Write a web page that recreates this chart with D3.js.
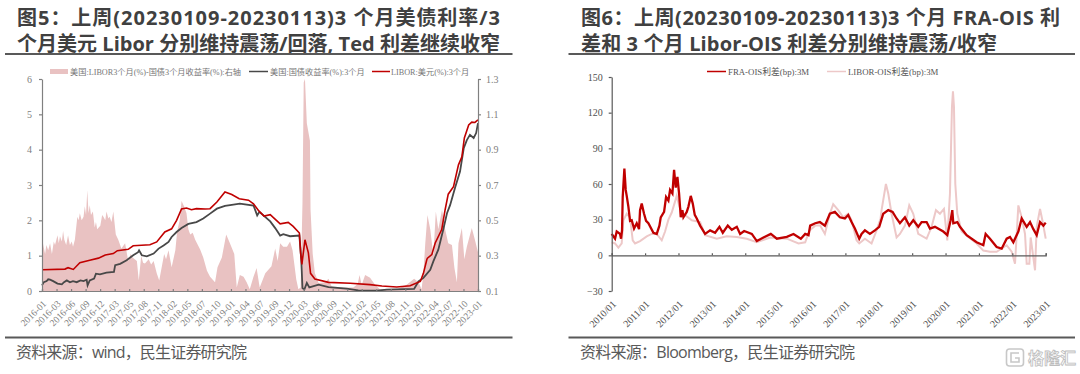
<!DOCTYPE html>
<html>
<head>
<meta charset="utf-8">
<script src="https://d3js.org/d3.v7.min.js"></script>
<style>
body { margin: 0; background: #fff; }
svg { display: block; }
</style>
</head>
<body>
<div id="chart"></div>
<script>
// left chart, [year, value]
const tedSpread = [[2016,.415],[2016.02,.36],[2016.05,.31],[2016.07,.36],[2016.1,.33],[2016.13,.37],[2016.16,.31],[2016.19,.38],[2016.21,.36],[2016.25,.415],[2016.27,.37],[2016.29,.41],[2016.32,.38],[2016.34,.44],[2016.36,.39],[2016.39,.36],[2016.42,.415],[2016.45,.36],[2016.48,.38],[2016.5,.35],[2016.53,.39],[2016.57,.52],[2016.59,.5],[2016.61,.54],[2016.64,.5],[2016.67,.52],[2016.69,.58],[2016.71,.53],[2016.73,.67],[2016.75,.54],[2016.77,.585],[2016.79,.53],[2016.82,.55],[2016.85,.46],[2016.87,.49],[2016.89,.45],[2016.94,.47],[2016.97,.53],[2016.99,.52],[2017.02,.5],[2017.04,.55],[2017.07,.51],[2017.09,.52],[2017.12,.49],[2017.15,.55],[2017.19,.42],[2017.23,.39],[2017.28,.34],[2017.34,.37],[2017.39,.27],[2017.43,.31],[2017.46,.29],[2017.53,.27],[2017.56,.16],[2017.6,.3],[2017.63,.26],[2017.66,.255],[2017.72,.28],[2017.76,.25],[2017.8,.27],[2017.85,.2],[2017.89,.16],[2017.93,.235],[2017.97,.31],[2018,.28],[2018.04,.33],[2018.09,.235],[2018.15,.33],[2018.18,.44],[2018.22,.5],[2018.25,.61],[2018.29,.58],[2018.33,.54],[2018.36,.45],[2018.39,.42],[2018.43,.43],[2018.47,.39],[2018.55,.335],[2018.6,.29],[2018.66,.215],[2018.71,.18],[2018.79,.15],[2018.83,.235],[2018.9,.29],[2018.97,.42],[2019.03,.37],[2019.1,.31],[2019.14,.12],[2019.19,.19],[2019.25,.18],[2019.3,.15],[2019.35,.11],[2019.41,.18],[2019.46,.23],[2019.51,.12],[2019.6,.2],[2019.7,.24],[2019.76,.34],[2019.8,.27],[2019.84,.37],[2019.89,.35],[2019.95,.35],[2020,.38],[2020.04,.33],[2020.1,.165],[2020.134,.11],[2020.17,.12],[2020.2,.6],[2020.22,1.28],[2020.24,1.3],[2020.27,1.05],[2020.295,1],[2020.32,.95],[2020.33,.56],[2020.365,.31],[2020.4,.2],[2020.46,.145],[2020.565,.15],[2020.62,.17],[2020.67,.125],[2020.86,.12],[2021.02,.12],[2021.09,.14],[2021.12,.19],[2021.155,.135],[2021.21,.19],[2021.29,.175],[2021.37,.135],[2021.45,.11],[2021.72,.108],[2021.88,.135],[2022,.17],[2022.07,.15],[2022.12,.11],[2022.15,.2],[2022.18,.37],[2022.215,.53],[2022.26,.45],[2022.31,.3],[2022.35,.55],[2022.39,.45],[2022.45,.56],[2022.5,.45],[2022.55,.37],[2022.61,.36],[2022.65,.23],[2022.69,.15],[2022.715,.37],[2022.77,.457],[2022.81,.28],[2022.85,.35],[2022.93,.457],[2022.98,.39],[2023.03,.32]];

const treasury3m = [[2016,.16],[2016.03,.25],[2016.075,.28],[2016.1,.33],[2016.13,.32],[2016.18,.28],[2016.25,.21],[2016.32,.19],[2016.355,.25],[2016.4,.3],[2016.45,.245],[2016.5,.28],[2016.56,.25],[2016.62,.3],[2016.67,.28],[2016.72,.32],[2016.735,.16],[2016.77,.3],[2016.84,.35],[2016.87,.49],[2016.935,.47],[2017.04,.52],[2017.16,.54],[2017.18,.73],[2017.26,.77],[2017.365,.87],[2017.47,1.01],[2017.55,1.1],[2017.565,1.15],[2017.61,1.01],[2017.69,.98],[2017.8,1.06],[2017.88,1.2],[2017.96,1.29],[2018.04,1.39],[2018.09,1.53],[2018.17,1.67],[2018.25,1.78],[2018.36,1.9],[2018.49,1.95],[2018.6,2.05],[2018.71,2.19],[2018.82,2.33],[2018.95,2.41],[2019.06,2.44],[2019.19,2.47],[2019.41,2.42],[2019.47,2.14],[2019.505,2.24],[2019.68,1.97],[2019.76,1.78],[2019.84,1.57],[2019.89,1.61],[2020,1.55],[2020.15,1.57],[2020.18,.89],[2020.2,.085],[2020.23,.04],[2020.27,.23],[2020.31,.1],[2020.46,.18],[2020.62,.11],[2020.91,.07],[2021.1,.02],[2021.4,.01],[2021.56,.04],[2022,.06],[2022.07,.27],[2022.15,.37],[2022.26,.6],[2022.31,.84],[2022.39,1.17],[2022.47,1.74],[2022.53,2.2],[2022.58,2.43],[2022.66,2.92],[2022.74,3.38],[2022.8,4.04],[2022.85,4.27],[2022.9,4.42],[2022.96,4.33],[2023,4.47],[2023.03,4.75]];

const libor3m = [[2016,.6],[2016.37,.62],[2016.42,.66],[2016.505,.61],[2016.61,.8],[2016.77,.87],[2016.91,.93],[2017.02,1.02],[2017.15,1.06],[2017.215,1.14],[2017.39,1.18],[2017.47,1.28],[2017.74,1.31],[2017.85,1.39],[2017.98,1.67],[2018.09,1.76],[2018.17,2],[2018.25,2.32],[2018.33,2.35],[2018.41,2.3],[2018.49,2.33],[2018.63,2.32],[2018.71,2.33],[2018.82,2.52],[2018.95,2.8],[2019.06,2.73],[2019.18,2.61],[2019.33,2.57],[2019.41,2.47],[2019.49,2.28],[2019.58,2.12],[2019.68,2.16],[2019.84,1.9],[2019.97,1.94],[2020.05,1.83],[2020.15,1.64],[2020.17,1.08],[2020.19,.75],[2020.24,1.45],[2020.295,1.08],[2020.33,.5],[2020.4,.34],[2020.62,.245],[2020.97,.22],[2021.29,.18],[2021.48,.14],[2021.72,.113],[2021.935,.15],[2022.1,.27],[2022.15,.5],[2022.205,.89],[2022.215,.93],[2022.285,1.03],[2022.34,1.36],[2022.445,1.74],[2022.5,2.3],[2022.55,2.74],[2022.635,2.95],[2022.715,3.57],[2022.77,3.8],[2022.81,4.33],[2022.88,4.7],[2022.93,4.78],[2022.98,4.77],[2023.03,4.84]];

const leftTicks = ["2016-01","2016-03","2016-06","2016-09","2016-12","2017-03","2017-05","2017-08","2017-11","2018-02","2018-05","2018-07","2018-10","2019-01","2019-04","2019-07","2019-09","2019-12","2020-03","2020-06","2020-09","2020-11","2021-02","2021-05","2021-08","2021-11","2022-01","2022-04","2022-07","2022-10","2023-01"];
const leftY = [0,1,2,3,4,5,6];
const rightY = [0.1,0.3,0.5,0.7,0.9,1.1,1.3];

// right chart, [year, bp]
const fraOis = [[2010,18],[2010.1,14],[2010.15,20],[2010.25,18],[2010.28,14],[2010.31,21],[2010.33,49],[2010.38,73],[2010.42,55],[2010.45,50],[2010.5,41],[2010.55,29],[2010.6,29.5],[2010.67,22.5],[2010.75,27],[2010.82,22],[2010.85,38],[2010.9,43.5],[2010.97,35],[2011.03,29],[2011.1,27],[2011.25,19],[2011.35,18],[2011.43,25],[2011.47,32],[2011.57,36.5],[2011.63,49],[2011.7,46],[2011.75,55],[2011.82,52],[2011.87,72],[2011.92,57],[2011.97,66],[2012.02,52],[2012.07,32],[2012.12,38],[2012.15,32],[2012.25,36.5],[2012.3,41],[2012.37,50],[2012.43,43.5],[2012.49,34],[2012.55,31],[2012.65,25],[2012.8,18],[2012.95,21],[2013.1,19],[2013.23,24],[2013.33,19],[2013.48,25],[2013.6,21.5],[2013.75,24],[2013.85,18],[2013.97,20.5],[2014.2,18],[2014.35,12],[2014.55,15],[2014.77,18],[2014.95,14],[2015.25,15.5],[2015.45,18],[2015.67,14],[2015.8,18],[2015.9,17],[2015.95,25],[2016.1,27],[2016.24,28],[2016.39,25],[2016.54,35],[2016.69,36.5],[2016.84,32],[2016.99,31],[2017.09,34],[2017.19,28],[2017.29,22.5],[2017.42,14],[2017.49,18],[2017.59,21],[2017.74,18],[2017.89,21],[2018.02,24],[2018.14,35],[2018.29,38],[2018.42,36.5],[2018.54,31],[2018.64,27],[2018.79,32],[2018.92,25],[2019.04,29.5],[2019.19,24],[2019.29,28],[2019.44,28],[2019.54,22.5],[2019.69,24],[2019.94,20],[2020.06,17],[2020.16,29.5],[2020.21,38],[2020.24,27],[2020.36,28],[2020.44,24],[2020.64,17],[2020.94,11],[2021.14,8.5],[2021.21,18],[2021.34,14],[2021.54,7],[2021.69,5.6],[2021.84,14],[2021.94,15.5],[2022.04,11],[2022.19,20],[2022.29,31],[2022.44,24],[2022.54,28],[2022.64,22],[2022.74,17],[2022.84,28],[2022.94,25],[2023.01,27.5]];

const liborOis = [[2010,11],[2010.1,10],[2010.2,6.5],[2010.3,10],[2010.35,29.5],[2010.45,35],[2010.55,32],[2010.63,12.6],[2010.7,10],[2010.85,12],[2011.05,16],[2011.2,18],[2011.35,18],[2011.5,12.6],[2011.6,20],[2011.7,30],[2011.8,36],[2011.95,50],[2012.03,41],[2012.15,35],[2012.4,29.5],[2012.65,28],[2012.8,17],[2013.15,14],[2013.45,16],[2013.75,15.5],[2014.05,14],[2014.35,11],[2014.75,15],[2015.25,14],[2015.6,10],[2015.8,11],[2015.93,21],[2016.1,25],[2016.25,25],[2016.39,18],[2016.54,35],[2016.64,43],[2016.79,38],[2016.94,32],[2017.09,35],[2017.19,29.5],[2017.34,12.6],[2017.42,10],[2017.59,14],[2017.79,10],[2017.94,21],[2018.06,31],[2018.09,38],[2018.22,60],[2018.29,52],[2018.39,35],[2018.54,15],[2018.64,18],[2018.79,25],[2018.92,42],[2019.04,35],[2019.19,18],[2019.44,14],[2019.59,24],[2019.72,38],[2019.84,35],[2019.96,39],[2020.06,12.6],[2020.14,52],[2020.2,125],[2020.23,138],[2020.26,125],[2020.3,60],[2020.36,35],[2020.49,20],[2020.69,15.5],[2020.94,10],[2021.14,4],[2021.34,3],[2021.54,3],[2021.84,8.5],[2021.99,3],[2022.09,-7],[2022.19,42],[2022.29,32],[2022.39,18],[2022.44,-7],[2022.52,-7],[2022.56,15],[2022.69,-12.6],[2022.74,24],[2022.84,39],[2022.92,28],[2023.01,14]];

const fraTicks = ["2010/01","2011/01","2012/01","2013/01","2014/01","2015/01","2016/01","2017/01","2018/01","2019/01","2020/01","2021/01","2022/01","2023/01"];
const bpY = [-30,0,30,60,90,120,150];

const width = 1080, height = 374;
const serif = "'Liberation Serif','Noto Sans CJK SC',serif";
const sans = "'Open Sans','Noto Sans CJK SC',sans-serif";

const svg = d3.select("#chart").append("svg")
  .attr("width", width)
  .attr("height", height);

// titles, rules, sources. lens = how wide each title line runs in the picture
function header(x, lines, lens, ruleX0, ruleX1, source, sourceX, sourceLen) {
  lines.forEach((t, i) => {
    svg.append("text").attr("x", x).attr("y", 25 + i * 25.5).text(t)
      .attr("font-family", sans).attr("font-weight", 700)
      .attr("font-size", 20).attr("fill", "#404040")
      .attr("textLength", lens[i]).attr("lengthAdjust", "spacing");
  });
  [54, 337.5].forEach(y => {
    svg.append("line").attr("x1", ruleX0).attr("x2", ruleX1).attr("y1", y).attr("y2", y)
      .attr("stroke", "#595959").attr("stroke-width", 1.8);
  });
  svg.append("text").attr("x", sourceX).attr("y", 358).text(source)
    .attr("font-family", sans).attr("font-size", 16).attr("fill", "#595959")
    .attr("textLength", sourceLen).attr("lengthAdjust", "spacing");
}
// \uFF1A and \uFF0C are the full-width colon and comma
header(17, ["图5\uFF1A上周(20230109-20230113)3  个月美债利率/3", "个月美元 Libor 分别维持震荡/回落, Ted 利差继续收窄"], [483, 483], 5, 512.5, "资料来源\uFF1Awind\uFF0C民生证券研究院", 16, 231);
header(581, ["图6\uFF1A上周(20230109-20230113)3 个月 FRA-OIS 利", "差和 3 个月 Libor-OIS 利差分别维持震荡/收窄"], [479, 416], 568.5, 1075, "资料来源\uFF1ABloomberg\uFF0C民生证券研究院", 580, 275);

function styleAxis(g, color, textColor, size) {
  g.selectAll("path,line").attr("stroke", color).attr("stroke-width", 1.2);
  g.selectAll("text").attr("fill", textColor).attr("font-family", serif).attr("font-size", size);
}

// rotated x labels hang from the tick, off is distance below the axis line
function rotateLabels(g, off) {
  g.selectAll("text")
    .attr("x", 0).attr("y", 0)
    .attr("dy", "0.35em")
    .attr("text-anchor", "end")
    .attr("transform", `translate(2,${off}) rotate(-45)`);
}

// ---- left chart
const xL = d3.scaleLinear().domain([2016, 2023.03]).range([42, 478]);
const yL = d3.scaleLinear().domain([0, 6]).range([291, 79]);
const yR = d3.scaleLinear().domain([0.1, 1.3]).range([291, 79]);
const xLTicks = d3.scalePoint().domain(leftTicks).range([42, 478]);

svg.append("path").datum(tedSpread)
  .attr("d", d3.area().x(d => xL(d[0])).y0(291).y1(d => yR(d[1])))
  .attr("fill", "#e9c2c2");

const lineL = d3.line().x(d => xL(d[0])).y(d => yL(d[1]));
svg.append("path").datum(treasury3m).attr("d", lineL)
  .attr("fill", "none").attr("stroke", "#484848").attr("stroke-width", 1.8);
svg.append("path").datum(libor3m).attr("d", lineL)
  .attr("fill", "none").attr("stroke", "#c00000").attr("stroke-width", 1.6);

svg.append("g").attr("transform", "translate(42,0)")
  .call(d3.axisLeft(yL).tickValues(leftY).tickFormat(d3.format("d")).tickSize(3).tickSizeOuter(0).tickPadding(7))
  .call(g => styleAxis(g, "#808080", "#808080", 10));
svg.append("g").attr("transform", "translate(478,0)")
  .call(d3.axisRight(yR).tickValues(rightY).tickFormat(d3.format(".1f")).tickSize(3).tickSizeOuter(0).tickPadding(5))
  .call(g => styleAxis(g, "#808080", "#808080", 10));
svg.append("g").attr("transform", "translate(0,291)")
  .call(d3.axisBottom(xLTicks).tickSize(-2))
  .call(g => styleAxis(g, "#808080", "#808080", 9.5))
  .call(g => rotateLabels(g, 11));

// ---- right chart
const xF = d3.scaleLinear().domain([2010, 2023.01]).range([611.7, 1045.7]);
const yF = d3.scaleLinear().domain([-30, 150]).range([291, 77]);
const xFTicks = d3.scalePoint().domain(fraTicks).range([611.7, 1045.7]);

const lineF = d3.line().x(d => xF(d[0])).y(d => yF(d[1]));
svg.append("path").datum(liborOis).attr("d", lineF)
  .attr("fill", "none").attr("stroke", "#edc8c8").attr("stroke-width", 2);
svg.append("path").datum(fraOis).attr("d", lineF)
  .attr("fill", "none").attr("stroke", "#c00000").attr("stroke-width", 2.3);

svg.append("g").attr("transform", "translate(611.7,0)")
  .call(d3.axisLeft(yF).tickValues(bpY).tickSize(3).tickSizeOuter(0).tickPadding(6))
  .call(g => styleAxis(g, "#595959", "#505050", 10));
svg.append("g").attr("transform", `translate(0,${yF(0)})`)
  .call(d3.axisBottom(xFTicks).tickSize(-2))
  .call(g => styleAxis(g, "#595959", "#505050", 10))
  .call(g => rotateLabels(g, 47));

// ---- legends
function legendText(x, t, color, size) {
  svg.append("text").attr("x", x).attr("y", 74.5).text(t)
    .attr("font-family", serif).attr("font-size", size).attr("fill", color);
}
function legendLine(x0, x1, color) {
  svg.append("line").attr("x1", x0).attr("x2", x1).attr("y1", 71.5).attr("y2", 71.5)
    .attr("stroke", color).attr("stroke-width", 1.5);
}
svg.append("rect").attr("x", 50).attr("y", 69).attr("width", 18).attr("height", 5).attr("fill", "#e9c2c2");
legendText(70, "美国:LIBOR3个月(%)-国债3个月收益率(%):右轴", "#777", 8.2);
legendLine(249, 268, "#484848");
legendText(270, "美国:国债收益率(%):3个月", "#777", 8.2);
legendLine(372, 390, "#c00000");
legendText(391, "LIBOR:美元(%):3个月", "#777", 8.2);
legendLine(707, 726, "#c00000");
legendText(728, "FRA-OIS利差(bp):3M", "#555", 8.8);
legendLine(827, 846, "#edc8c8");
legendText(848, "LIBOR-OIS利差(bp):3M", "#555", 8.8);

// ---- watermark
const wm = svg.append("g");
wm.append("rect").attr("x", 1006.5).attr("y", 349).attr("width", 17).attr("height", 17).attr("rx", 3)
  .attr("fill", "#fff").attr("stroke", "#c8c8c8").attr("stroke-width", 1.6);
wm.append("path").attr("d", "M1019 353H1011V362H1019V358H1015")
  .attr("fill", "none").attr("stroke", "#c8c8c8").attr("stroke-width", 1.6);
wm.append("text").attr("x", 1028).attr("y", 364).text("格隆汇")
  .attr("font-family", sans).attr("font-weight", 700).attr("font-size", 16)
  .attr("fill", "#fff").attr("stroke", "#bdbdbd").attr("stroke-width", 0.8);
</script>
</body>
</html>
